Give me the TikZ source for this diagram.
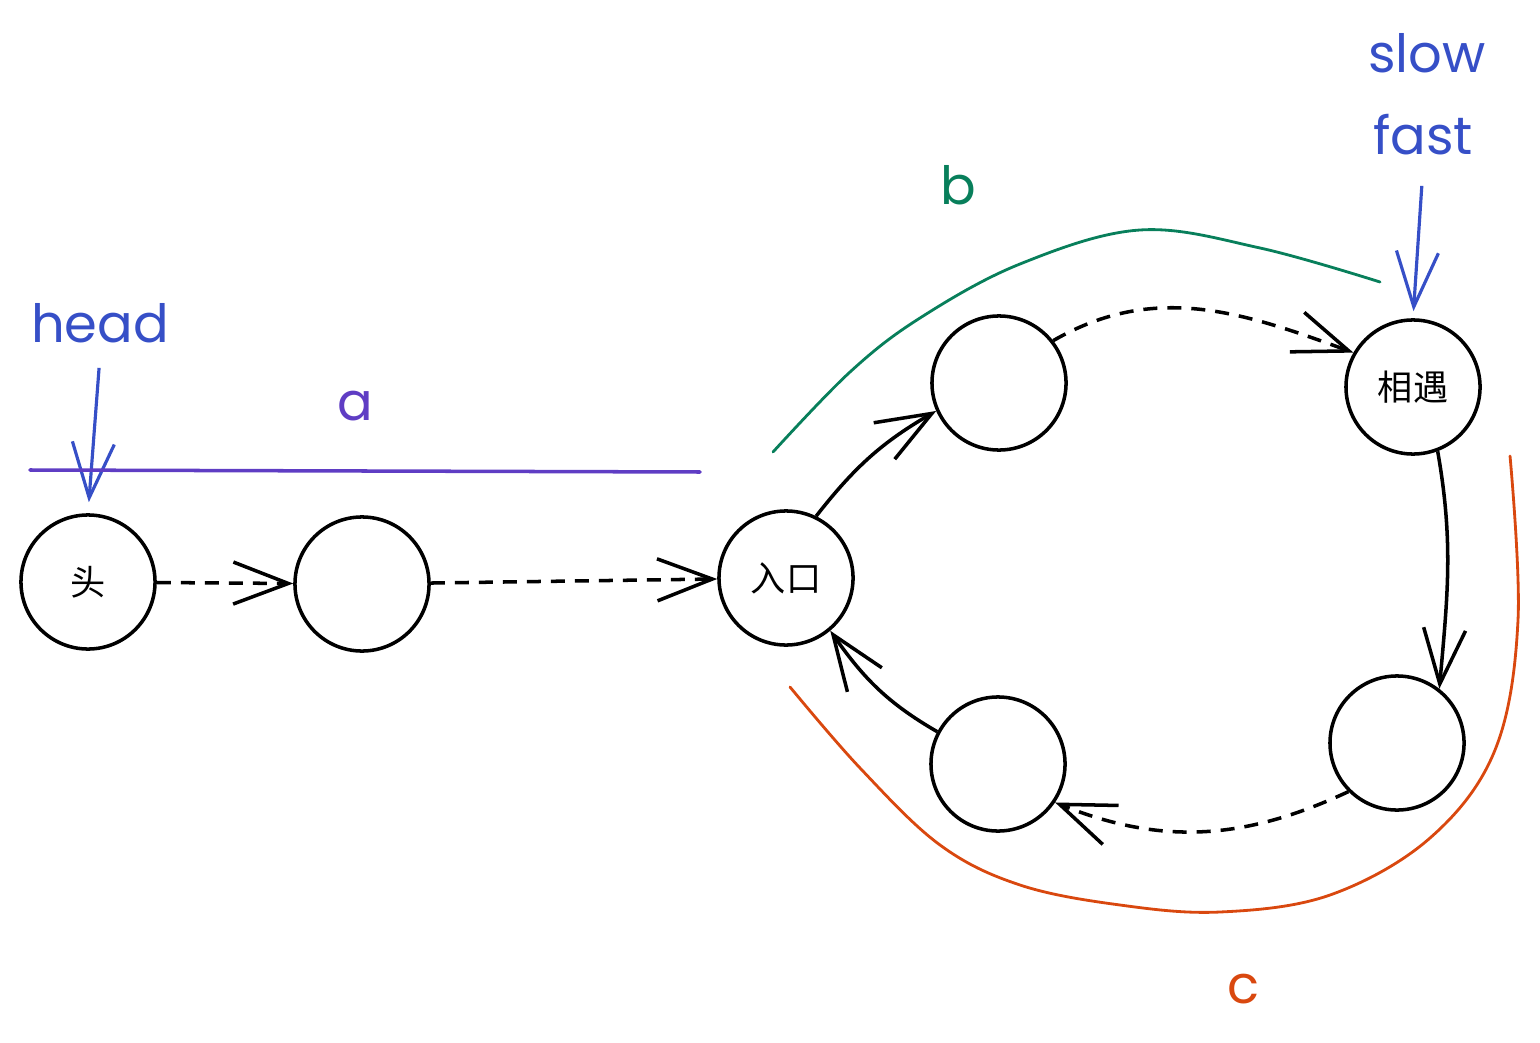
\documentclass[tikz,border=0pt]{standalone}
\usepackage{fontspec}
\setmainfont{Poppins}
\newfontfamily\cjk{Noto Sans CJK SC}
\usetikzlibrary{arrows.meta, positioning}
\definecolor{inkblue}{HTML}{364FC7}
\definecolor{inkviolet}{HTML}{5F3DC4}
\definecolor{inkgreen}{HTML}{087F5B}
\definecolor{inkorange}{HTML}{D9480F}
\tikzset{
    ball/.style={circle, draw, line width=1pt, minimum size=1.34cm, inner sep=0pt, font=\cjk\fontsize{10}{12}\selectfont},
    arrow/.style={line width=1pt, -{Straight Barb[length=5.5mm, width=4.2mm]}},
    dasharrow/.style={arrow, dash pattern=on 1.4mm off 1mm},
    pointer/.style={arrow, inkblue, line width=0.9pt},
    hand/.style={font=\fontsize{15}{18}\selectfont, anchor=base},
    span/.style={line width=1pt, line cap=round}
}

\begin{document}
\begin{tikzpicture}[x=0.01cm, y=-0.01cm]
\useasboundingbox (0,0) rectangle (1540,1043);

% list part
\node[ball] (start) at (88,582) {头};
\node[ball] (second) at (362,584) {};
\node[ball] (entry) at (786,578) {入口};

% ring part
\node[ball] (ringa) at (999,383) {};
\node[ball] (meet) at (1413,387) {相遇};
\node[ball] (ringc) at (1397,743) {};
\node[ball] (ringd) at (998,764) {};

% links
\draw[dasharrow] (start) -- (second);
\draw[dasharrow] (second) -- (entry);
\draw[arrow] (entry.64) to[out=52, in=-150] (ringa.204);
\draw[dasharrow] (ringa.38) to[out=30, in=160] (meet.150);
\draw[arrow] (meet.-69) to[out=-80, in=85] (ringc.52);
\draw[dasharrow] (ringc.-135) to[out=-155, in=-22] (ringd.-34);
\draw[arrow] (ringd.152) to[out=150, in=-55] (entry.-50);

% pointers
\node[hand, inkblue] (lhead) at (100,343) {head};
\node[hand, inkblue] (lslow) at (1427,73) {slow};
\node[hand, inkblue] (lfast) at (1423,155) {fast};
\draw[pointer, shorten <=1.2mm, shorten >=1.1mm] (lhead.south) -- (start.north);
\draw[pointer, shorten <=1.8mm, shorten >=0.7mm] (lfast.south) -- (meet.north);

% lengths a, b, c
\node[hand, inkviolet] (la) at (355,420) {a};
\node[hand, inkgreen] (lb) at (958,205) {b};
\node[hand, inkorange] (lc) at (1243,1003) {c};
\draw[span, inkviolet] (30,470) -- (700,472);
\draw[span, inkgreen, line width=0.8pt] plot[smooth, tension=0.6] coordinates
    {(773,452) (850,372) (920,318) (1020,264) (1140,230) (1260,248) (1380,282)};
\draw[span, inkorange, line width=0.8pt] plot[smooth, tension=0.6] coordinates
    {(790,687) (860,768) (940,845) (1020,885) (1120,905) (1220,912) (1330,895)
     (1430,838) (1495,750) (1518,620) (1510,456)};
\end{tikzpicture}
\end{document}
